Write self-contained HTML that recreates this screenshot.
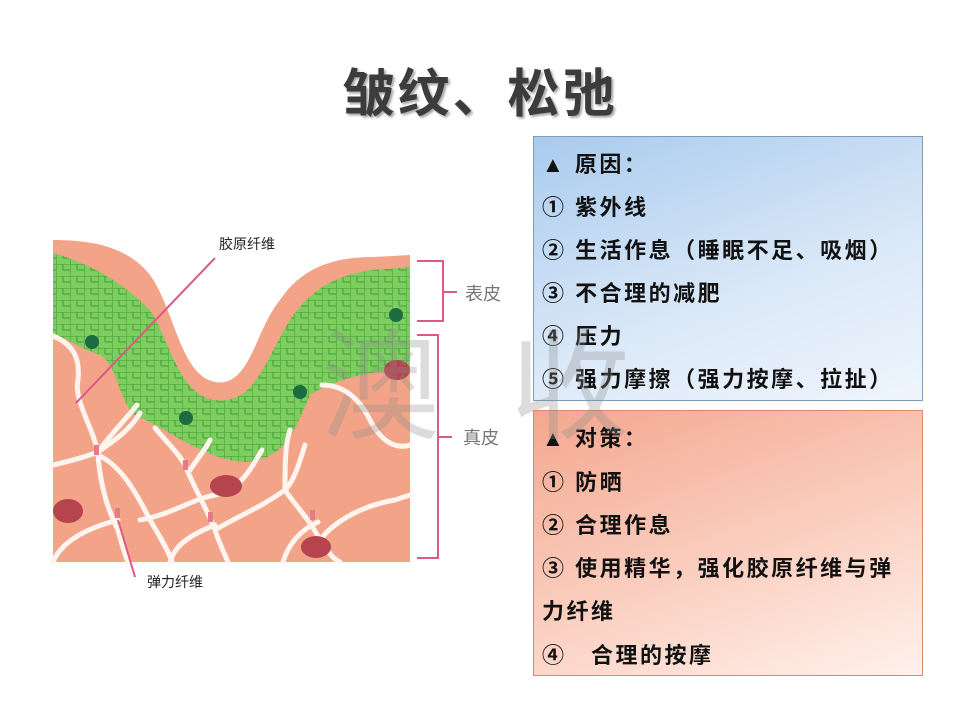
<!DOCTYPE html>
<html><head><meta charset="utf-8"><style>
body{margin:0;width:960px;height:720px;background:#fff;overflow:hidden;position:relative;font-family:"Liberation Sans","Noto Sans CJK SC",sans-serif}
.t{position:absolute;left:0;width:960px;top:52px;text-align:center;font-size:52px;font-weight:bold;color:#3c3c3c;text-shadow:2px 2px 2px #aaa;letter-spacing:3px}
.box{position:absolute;left:533px;width:390px;box-sizing:border-box;border:1px solid #7f9db9}
.box div{position:absolute;left:8px;font-size:22px;line-height:32px;letter-spacing:2.5px;font-weight:bold;color:#111;white-space:nowrap}
.b1{top:136px;height:265px;background:linear-gradient(160deg,#a9cbee 0%,#dce9f8 60%,#eef5fd 100%)}
.b2{top:410px;height:266px;border-color:#d98a6a;background:linear-gradient(160deg,#f4a78f 0%,#fbd3c5 60%,#fff1ec 100%)}
.wm{position:absolute;font-size:120px;color:rgba(140,140,140,0.3);font-family:"Noto Sans CJK SC",sans-serif;top:290px}
</style></head><body>
<div class="t">皱纹、松弛</div>
<svg width="960" height="720" style="position:absolute;left:0;top:0">
<defs><pattern id="cell" width="14" height="12" patternUnits="userSpaceOnUse"><rect width="14" height="12" fill="#7ccf5e"/><path d="M0 0H14M0 0V12M7 6H14M7 0V6" stroke="#4fa540" stroke-width="1.3" fill="none"/></pattern></defs>
<path d="M53 240 C100 240 130 250 150 275 C175 310 180 375 215 382 C250 388 255 330 280 300 C300 270 330 257 373 257 L410 255 L410 562 L53 562 Z" fill="#f3a488"/>
<path d="M53 253 C95 265 125 285 150 310 C170 340 178 395 215 400 C255 405 265 360 290 320 C310 290 335 275 373 270 L410 267 L410 367 C380 372 340 375 310 395 C295 430 285 460 245 462 C205 460 170 430 135 415 C118 400 118 365 100 355 C80 348 65 338 53 333 Z" fill="url(#cell)"/>
<g stroke="#fff4ee" stroke-width="5" fill="none" stroke-linecap="round">
<path d="M53 336 C75 345 80 360 78 380 C73 400 95 430 98 455 C100 480 105 505 118 530 C122 545 125 555 128 562"/>
<path d="M53 465 C75 460 90 455 98 452 C115 440 130 430 140 413"/>
<path d="M98 455 C120 465 135 490 150 520 C165 545 170 555 172 562"/>
<path d="M53 562 C60 545 80 530 118 520"/>
<path d="M137 405 C125 420 110 435 98 452"/>
<path d="M155 428 C165 440 180 455 185 465 C195 490 210 515 215 530 C220 545 225 555 228 562"/>
<path d="M140 520 C170 515 190 500 215 495 C240 490 250 470 262 450"/>
<path d="M190 470 C200 455 205 450 210 440"/>
<path d="M170 562 C175 545 190 535 215 525"/>
<path d="M215 530 C240 515 260 508 285 490 C295 480 300 460 305 445"/>
<path d="M285 490 C295 505 310 520 320 540 C330 555 335 560 340 562"/>
<path d="M290 430 C285 445 285 465 285 490"/>
<path d="M320 540 C335 520 365 505 395 500 L410 495"/>
<path d="M322 385 C345 385 360 400 370 420 C380 440 395 450 410 445"/>
<path d="M283 562 C288 545 300 530 318 522"/>
</g>
<g fill="#e77a8a"><rect x="94" y="445" width="5" height="10"/><rect x="183" y="460" width="5" height="10"/><rect x="208" y="512" width="5" height="10"/><rect x="115" y="508" width="5" height="10"/><rect x="310" y="510" width="5" height="10"/></g>
<g fill="#1d6b40"><circle cx="92" cy="342" r="7"/><circle cx="186" cy="418" r="7"/><circle cx="300" cy="392" r="7"/><circle cx="396" cy="315" r="7"/></g>
<g fill="#b5444f"><ellipse cx="397" cy="370" rx="13" ry="10"/><ellipse cx="226" cy="486" rx="16" ry="11"/><ellipse cx="68" cy="511" rx="15" ry="12"/><ellipse cx="316" cy="547" rx="15" ry="11"/></g>
<g stroke="#dc5a85" stroke-width="2" fill="none">
<path d="M215 258 L76 403"/><path d="M118 520 L135 577"/>
<path d="M417 261 H443 V321 H417 M443 292 H457"/>
<path d="M417 335 H438 V558 H417 M438 437 H452"/>
</g>
<text x="247" y="249" font-size="14" text-anchor="middle" fill="#222" font-family="Noto Sans CJK SC">胶原纤维</text>
<text x="175" y="587" font-size="14" text-anchor="middle" fill="#222" font-family="Noto Sans CJK SC">弹力纤维</text>
<text x="465" y="300" font-size="18" fill="#777" font-family="Noto Sans CJK SC">表皮</text>
<text x="463" y="444" font-size="18" fill="#777" font-family="Noto Sans CJK SC">真皮</text>
</svg>
<div class="box b1">
<div style="top:12px">▲ 原因：</div>
<div style="top:55px">① 紫外线</div>
<div style="top:98px">② 生活作息（睡眠不足、吸烟）</div>
<div style="top:141px">③ 不合理的减肥</div>
<div style="top:184px">④ 压力</div>
<div style="top:227px">⑤ 强力摩擦（强力按摩、拉扯）</div>
</div>
<div class="box b2">
<div style="top:12px">▲ 对策：</div>
<div style="top:56px">① 防晒</div>
<div style="top:99px">② 合理作息</div>
<div style="top:142px">③ 使用精华，强化胶原纤维与弹</div>
<div style="top:185px">力纤维</div>
<div style="top:229px">④　合理的按摩</div>
</div>
<div class="wm" style="left:320px">澳</div>
<div class="wm" style="left:510px">收</div>
</body></html>
